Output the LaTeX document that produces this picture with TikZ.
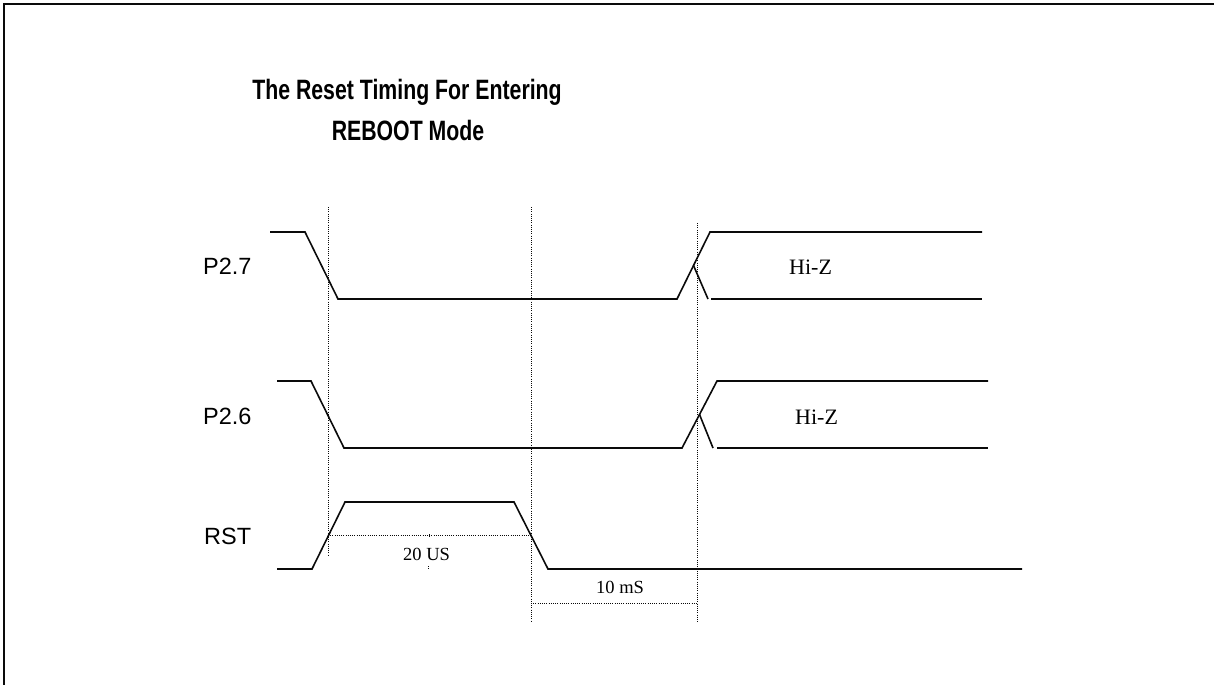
\documentclass[tikz,border=0pt]{standalone}
\usepackage{fontspec}
\setmainfont{Liberation Serif}
\newfontfamily\pinfont{Liberation Sans}
\newfontfamily\headfont[FakeStretch=0.76]{Liberation Sans}
\usetikzlibrary{positioning}
\definecolor{inkBlack}{RGB}{10,10,10}
\tikzset{
  frame/.style={line width=2pt, draw=inkBlack},
  signal/.style={line width=1.6pt, draw=inkBlack, line join=miter},
  guide/.style={line width=1pt, draw=inkBlack, dash pattern=on 1pt off 1.2pt},
  headtext/.style={anchor=base, inner sep=0pt, font=\headfont\bfseries\fontsize{28}{34}\selectfont},
  pintext/.style={anchor=base west, inner sep=0pt, font=\pinfont\fontsize{23.5}{28}\selectfont},
  statetext/.style={anchor=base west, inner sep=0pt, font=\fontsize{22}{26}\selectfont},
  timetext/.style={anchor=base west, inner sep=0pt, font=\fontsize{18.5}{22}\selectfont}
}
\begin{document}
\begin{tikzpicture}[x=1pt, y=-1pt]
\useasboundingbox (0,0) rectangle (1214,685);
\draw[frame] (1214,4) -- (4,4) -- (4,685);
% title
\node[headtext] (title) at (407,99) {The Reset Timing For Entering};
\node[headtext] (titlemode) at (408,140) {REBOOT Mode};
% signal names
\node[pintext] (p27) at (203,274) {P2.7};
\node[pintext] (p26) at (203,424) {P2.6};
\node[pintext] (rst) at (204,544) {RST};
% P2.7
\draw[signal] (270,232) -- (305,232) -- (338,299) -- (677,299) -- (710,232) -- (982,232);
\draw[signal] (693.5,265.5) -- (708,299);
\draw[signal] (711,299) -- (982,299);
\node[statetext] (hiz27) at (789,274) {Hi-Z};
% P2.6
\draw[signal] (277,381) -- (311,381) -- (344,448) -- (682,448) -- (717,381) -- (988,381);
\draw[signal] (699.5,414.5) -- (713,448);
\draw[signal] (717,448) -- (988,448);
\node[statetext] (hiz26) at (795,424) {Hi-Z};
% RST
\draw[signal] (277,569) -- (312,569) -- (345,502) -- (514,502) -- (548,569) -- (1022,569);
% timing marks
\coordinate (g1top) at (328,207);
\coordinate (g1bot) at (328,555);
\coordinate (g2top) at (531,207);
\coordinate (g2bot) at (531,622);
\coordinate (g3top) at (697,223);
\coordinate (g3bot) at (697,622);
\draw[guide] (g1top) -- (g1bot);
\draw[guide] (g2top) -- (g2bot);
\draw[guide] (g3top) -- (g3bot);
\draw[guide] (g1top |- 0,535) coordinate (us0) -- (g2top |- 0,535) coordinate (us1);
\draw[guide] (g2top |- 0,603) coordinate (ms0) -- (g3top |- 0,603) coordinate (ms1);
\draw[guide] (429,534) -- (429,538);
\draw[guide] (428,566) -- (428,569);
\node[timetext] (t20us) at (403,560) {20 US};
\node[timetext] (t10ms) at (596,593) {10 mS};
\end{tikzpicture}
\end{document}
